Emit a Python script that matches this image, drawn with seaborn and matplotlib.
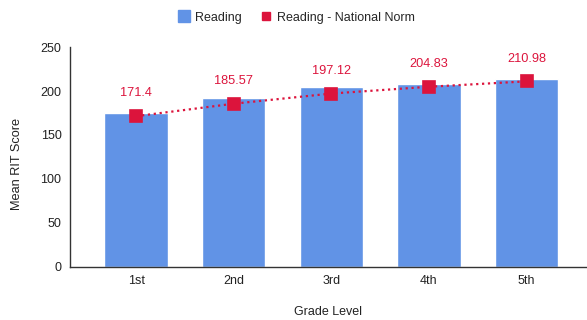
import matplotlib
matplotlib.use("Agg")
import matplotlib.pyplot as plt
from matplotlib.lines import Line2D
import seaborn as sns
import pandas as pd

grades = ["1st", "2nd", "3rd", "4th", "5th"]
reading = [175.5, 192.5, 204.0, 207.5, 213.5]
national_norm = [171.4, 185.57, 197.12, 204.83, 210.98]

bar_color = "#6193E6"
norm_color = "#DC143C"
text_color = "#222222"

sns.set_theme(style="white")
plt.rcParams["font.family"] = ["Liberation Sans", "DejaVu Sans"]

df = pd.DataFrame({"grade": grades, "reading": reading, "norm": national_norm})

fig = plt.figure(figsize=(5.87, 3.2), dpi=100)
ax = fig.add_axes([0.119, 0.166, 0.881, 0.687])

sns.barplot(data=df, x="grade", y="reading", color=bar_color, width=0.65,
            saturation=1, ax=ax)
sns.pointplot(data=df, x="grade", y="norm", color=norm_color, markers="s",
              linestyles=":", markersize=8, linewidth=1.6, ax=ax)

for i, v in enumerate(national_norm):
    ax.annotate(f"{v:g}", (i, v), xytext=(0, 12), textcoords="offset points",
                ha="center", va="bottom", color=norm_color, fontsize=9.2)

ax.set_ylim(0, 250)
ax.set_yticks([0, 50, 100, 150, 200, 250])
ax.set_xlim(-0.68, 4.62)
ax.set_xlabel("Grade Level", fontsize=9, color=text_color)
ax.set_ylabel("Mean RIT Score", fontsize=9.2, color=text_color)
ax.xaxis.set_label_coords(0.5, -0.178)
ax.yaxis.set_label_coords(-0.091, 0.47)
ax.tick_params(axis="both", labelsize=9, colors=text_color, length=0, pad=6)

sns.despine(ax=ax, top=True, right=True)
for side in ("left", "bottom"):
    ax.spines[side].set_color("#333333")
    ax.spines[side].set_linewidth(1.0)

handles = [
    Line2D([], [], marker="s", linestyle="none", markersize=8.6,
           markerfacecolor=bar_color, markeredgecolor=bar_color),
    Line2D([], [], marker="s", linestyle="none", markersize=6,
           markerfacecolor=norm_color, markeredgecolor=norm_color),
]
fig.legend(handles, ["Reading", "Reading - National Norm"], loc="center",
           bbox_to_anchor=(0.505, 0.945), ncol=2, frameon=False, fontsize=9,
           handletextpad=0.4, columnspacing=1.4, handlelength=1.0)

fig.savefig("out.png", dpi=100)
